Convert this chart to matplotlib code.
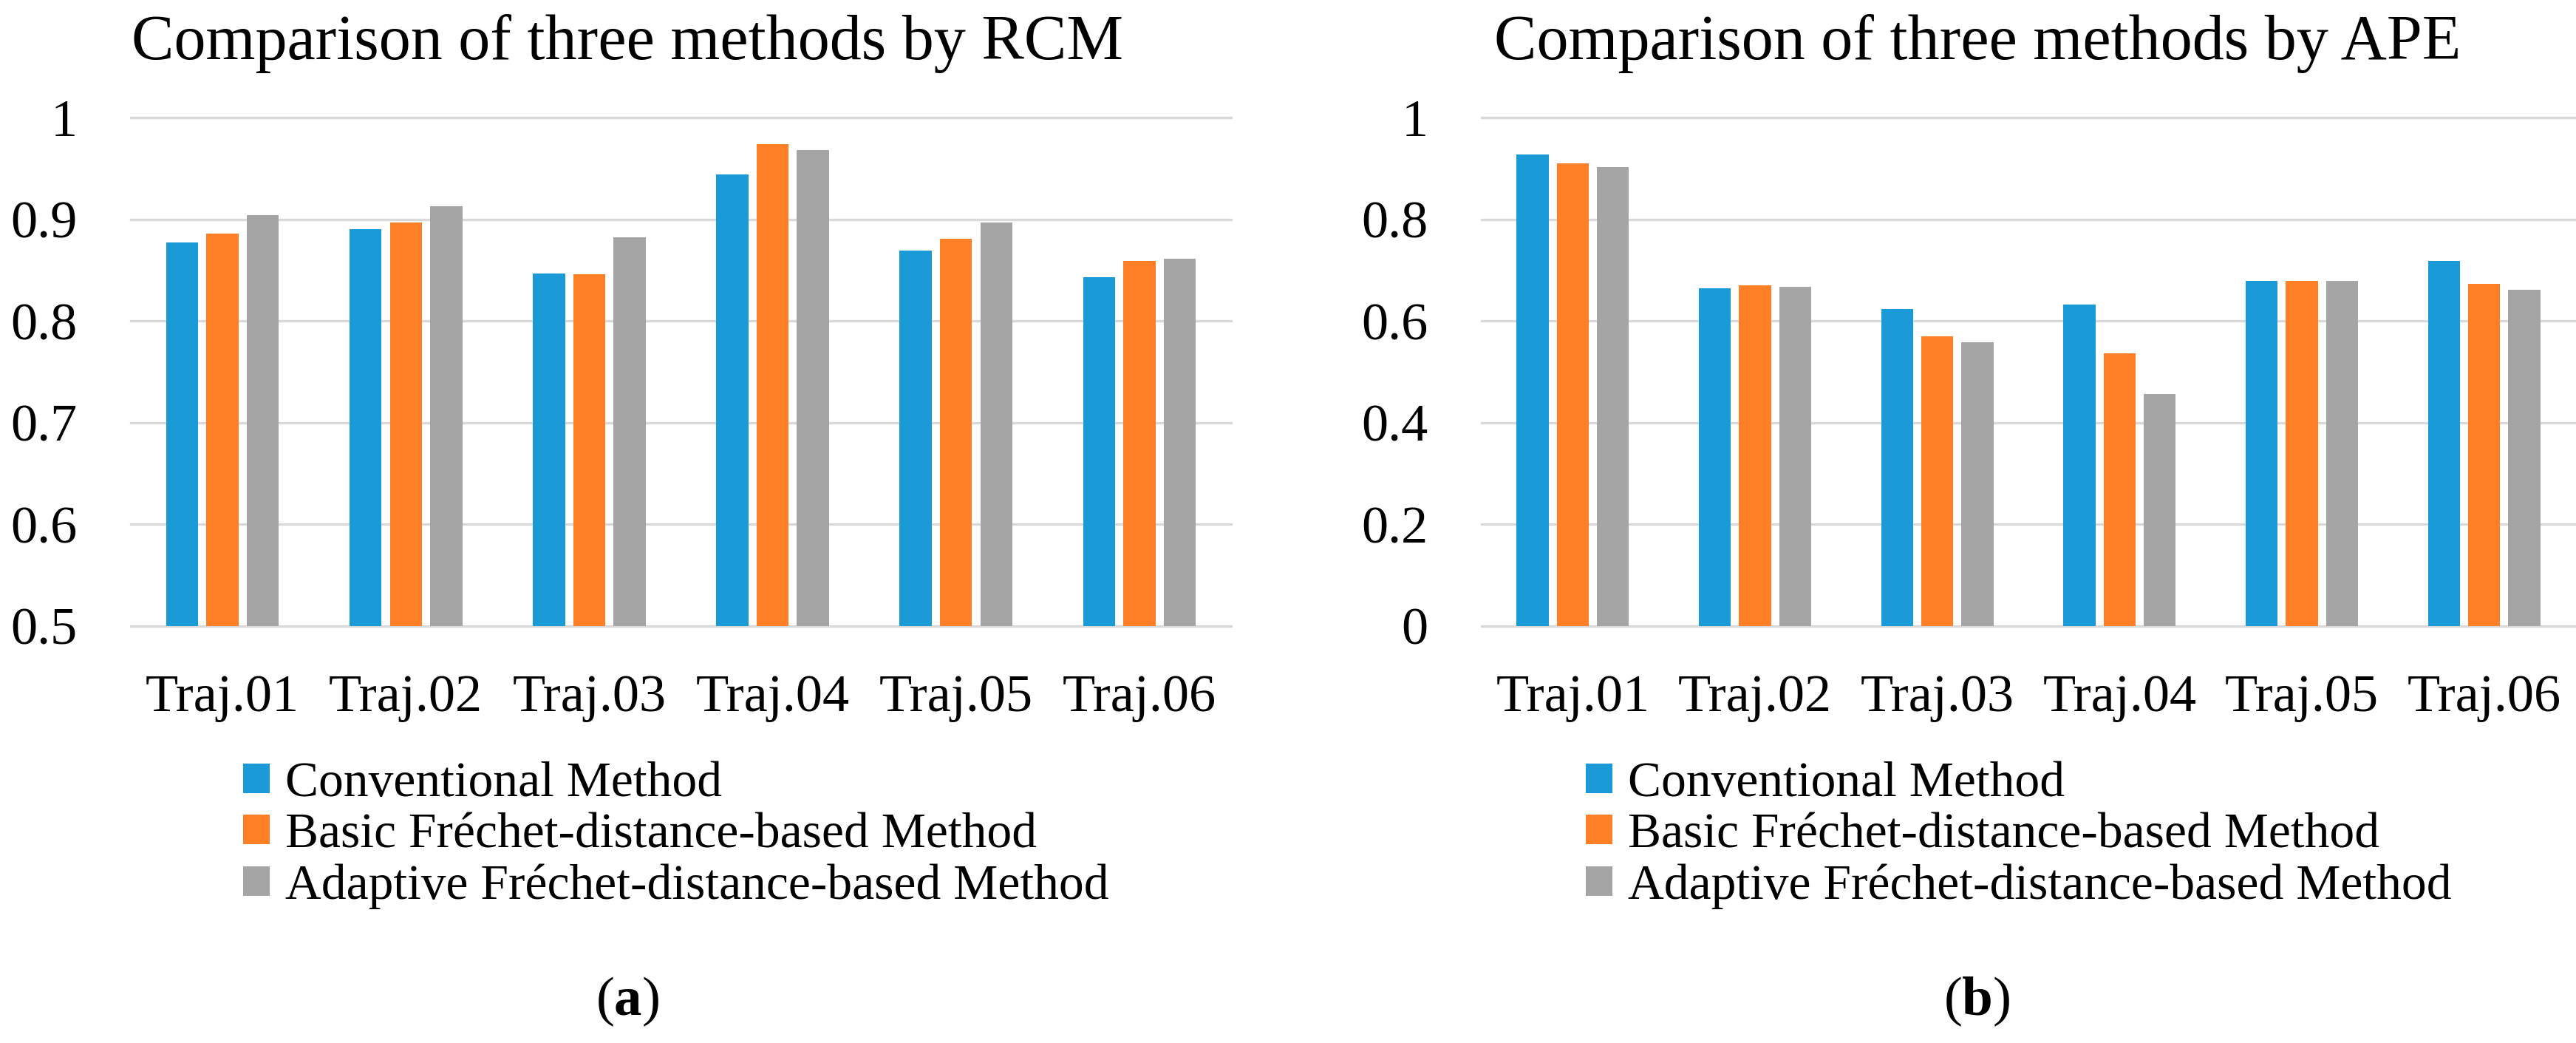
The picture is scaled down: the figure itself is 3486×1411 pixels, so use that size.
import matplotlib
matplotlib.use('Agg')
import matplotlib.pyplot as plt
import numpy as np

plt.rcParams['font.family'] = ['Liberation Serif', 'DejaVu Serif']
plt.rcParams['mathtext.fontset'] = 'custom'
plt.rcParams['mathtext.rm'] = 'Liberation Serif'
plt.rcParams['mathtext.bf'] = 'Liberation Serif:bold'

#
# Values
#
trajs = ['Traj.01', 'Traj.02', 'Traj.03', 'Traj.04', 'Traj.05', 'Traj.06']
methods = ['Conventional Method',
           'Basic Fr\u00e9chet-distance-based Method',
           'Adaptive Fr\u00e9chet-distance-based Method']

rcm_conventional = [0.877, 0.890, 0.847, 0.944, 0.869, 0.843]
rcm_basic = [0.886, 0.897, 0.846, 0.974, 0.881, 0.859]
rcm_adaptive = [0.904, 0.913, 0.882, 0.968, 0.897, 0.861]

ape_conventional = [0.927, 0.664, 0.624, 0.632, 0.679, 0.718]
ape_basic = [0.910, 0.670, 0.570, 0.536, 0.679, 0.673]
ape_adaptive = [0.903, 0.667, 0.558, 0.457, 0.679, 0.661]

rcm_ticks = [0.5, 0.6, 0.7, 0.8, 0.9, 1.0]
rcm_ticklabels = ['0.5', '0.6', '0.7', '0.8', '0.9', '1']
ape_ticks = [0, 0.2, 0.4, 0.6, 0.8, 1.0]
ape_ticklabels = ['0', '0.2', '0.4', '0.6', '0.8', '1']

colors = ['#1A9BD7', '#FF7F27', '#A5A5A5']
grid_color = '#D9D9D9'

W, H = 3487, 1411
fig = plt.figure(figsize=(W/100, H/100), dpi=100)

def px_axes(x0, x1, ytop, ybot):
    return fig.add_axes([x0/W, 1-ybot/H, (x1-x0)/W, (ybot-ytop)/H])

ax0 = px_axes(177, 1666, 159, 847)
ax1 = px_axes(2005, 3485, 159, 847)

def draw(ax, series, ticks, ticklabels, title, title_x, legend_x, tag, tag_x):
    x = np.arange(len(trajs))
    width = 0.175
    offs = [-0.22, 0.0, 0.22]
    bars = []
    for vals, off, c, lab in zip(series, offs, colors, methods):
        b = ax.bar(x + off, np.array(vals) - ticks[0], width, bottom=ticks[0],
                   color=c, label=lab, zorder=3)
        bars.append(b)
    ax.set_xlim(-0.5, len(trajs) - 0.5)
    ax.set_ylim(ticks[0], ticks[-1])
    ax.set_yticks(ticks)
    ax.set_yticklabels(ticklabels)
    ax.set_xticks(x)
    ax.set_xticklabels(trajs)
    ax.tick_params(axis='y', length=0, pad=52, labelsize=52)
    ax.tick_params(axis='x', length=0, pad=47, labelsize=52)
    for s in ax.spines.values():
        s.set_visible(False)
    for t in ticks:
        ax.axhline(t, color=grid_color, lw=2.4, zorder=1, clip_on=False)
    fig.text(title_x/W, 1-80/H, title, fontsize=62, ha='left', va='baseline')
    fig.legend(handles=bars, labels=methods, loc='upper left',
               bbox_to_anchor=(legend_x/W, 1-1030/H), frameon=False,
               fontsize=48.6, handlelength=0.54, handleheight=0.54,
               handletextpad=0.3, labelspacing=0.12, borderpad=0,
               borderaxespad=0)
    fig.text(tag_x/W, 1-1355/H, r'($\mathbf{' + tag + '}$)', fontsize=54,
             ha='center', va='center')

draw(ax0, [rcm_conventional, rcm_basic, rcm_adaptive], rcm_ticks, rcm_ticklabels,
     'Comparison of three methods by RCM', 178, 329, 'a', 849)
draw(ax1, [ape_conventional, ape_basic, ape_adaptive], ape_ticks, ape_ticklabels,
     'Comparison of three methods by APE', 2022, 2146, 'b', 2675)

fig.savefig('out.png', dpi=100)
